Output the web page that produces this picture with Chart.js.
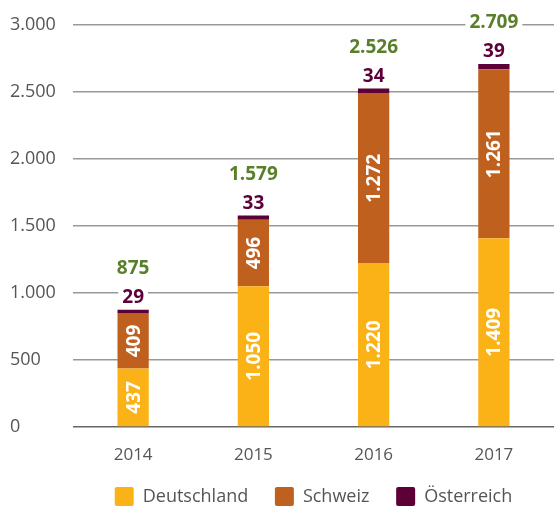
<!DOCTYPE html>
<html>
<head>
<meta charset="utf-8">
<script src="https://cdn.jsdelivr.net/npm/chart.js@4/dist/chart.umd.min.js"></script>
<style>
  html, body { margin: 0; padding: 0; background: #fff; }
  #wrap { width: 554px; height: 507px; }
</style>
</head>
<body>
<div id="wrap"><canvas id="myChart"></canvas></div>
<script>
const years = ["2014", "2015", "2016", "2017"];
const deutschland = [437, 1050, 1220, 1409];
const schweiz = [409, 496, 1272, 1261];
const oesterreich = [29, 33, 34, 39];
const yTicks = [0, 500, 1000, 1500, 2000, 2500, 3000];

const totals = years.map((y, i) => deutschland[i] + schweiz[i] + oesterreich[i]);

const fmt = (v) => v.toLocaleString("de-DE");
const fontName = "'Open Sans', sans-serif";

// draws the numbers on and above the bars
const labelPlugin = {
    id: "barLabels",
    afterDatasetsDraw(chart) {
        const ctx = chart.ctx;
        ctx.save();
        ctx.textAlign = "center";
        ctx.textBaseline = "middle";

        // white numbers inside the two big segments, rotated
        [0, 1].forEach((d) => {
            const meta = chart.getDatasetMeta(d);
            meta.data.forEach((bar, i) => {
                const val = chart.data.datasets[d].data[i];
                const mid = (bar.y + bar.base) / 2;
                ctx.save();
                ctx.translate(bar.x, mid);
                ctx.rotate(-Math.PI / 2);
                ctx.font = "bold 19px " + fontName;
                ctx.fillStyle = "#ffffff";
                ctx.fillText(fmt(val), 0, 1);
                ctx.restore();
            });
        });

        // Österreich value and total above each bar
        const top = chart.getDatasetMeta(2);
        top.data.forEach((bar, i) => {
            const texts = [
                { t: fmt(oesterreich[i]), y: bar.y - 12, c: "#5e0038" },
                { t: fmt(totals[i]), y: bar.y - 41, c: "#5a7f2b" }
            ];
            texts.forEach((o) => {
                ctx.font = "bold 19px " + fontName;
                const w = ctx.measureText(o.t).width;
                ctx.fillStyle = "#ffffff";
                ctx.fillRect(bar.x - w / 2 - 4, o.y - 9, w + 8, 18);
                ctx.fillStyle = o.c;
                ctx.fillText(o.t, bar.x, o.y);
            });
        });
        ctx.restore();
    }
};

new Chart("myChart", {
    type: "bar",
    data: {
        labels: years,
        datasets: [
            { label: "Deutschland", data: deutschland, backgroundColor: "#fbb216" },
            { label: "Schweiz", data: schweiz, backgroundColor: "#c0601e" },
            { label: "Österreich", data: oesterreich, backgroundColor: "#5e0038" }
        ]
    },
    options: {
        responsive: true,
        maintainAspectRatio: false,
        animation: false,
        layout: { padding: { top: 25, right: 0, left: 10, bottom: -9 } },
        datasets: { bar: { barPercentage: 0.26, categoryPercentage: 1 } },
        scales: {
            x: {
                stacked: true,
                grid: { display: false },
                border: { display: false },
                ticks: { color: "#555", font: { family: fontName, size: 17 }, padding: 10 },
                afterFit: (axis) => { axis.height = 52; }
            },
            y: {
                stacked: true,
                min: 0,
                max: 3000,
                afterBuildTicks: (axis) => { axis.ticks = yTicks.map((v) => ({ value: v })); },
                afterFit: (axis) => { axis.width = 63; },
                border: { display: false },
                grid: {
                    color: (c) => c.tick && c.tick.value === 0 ? "#666" : "#999",
                    lineWidth: 1.5,
                    drawTicks: false
                },
                ticks: {
                    color: "#555",
                    crossAlign: "far",
                    padding: 10,
                    font: { family: fontName, size: 18 },
                    callback: (v) => fmt(v)
                }
            }
        },
        plugins: {
            legend: {
                position: "bottom",
                fullSize: false,
                labels: {
                    color: "#555",
                    font: { family: fontName, size: 18 },
                    boxWidth: 19,
                    boxHeight: 19,
                    padding: 8,
                    useBorderRadius: true,
                    borderRadius: 2,
                    // extra spaces keep the gap between entries
                    generateLabels: (chart) => {
                        const items = Chart.defaults.plugins.legend.labels.generateLabels(chart);
                        items.forEach((it, i) => {
                            if (i < items.length - 1) it.text = it.text + "    ";
                        });
                        return items;
                    }
                }
            },
            tooltip: { enabled: false }
        }
    },
    plugins: [labelPlugin]
});
</script>
</body>
</html>
